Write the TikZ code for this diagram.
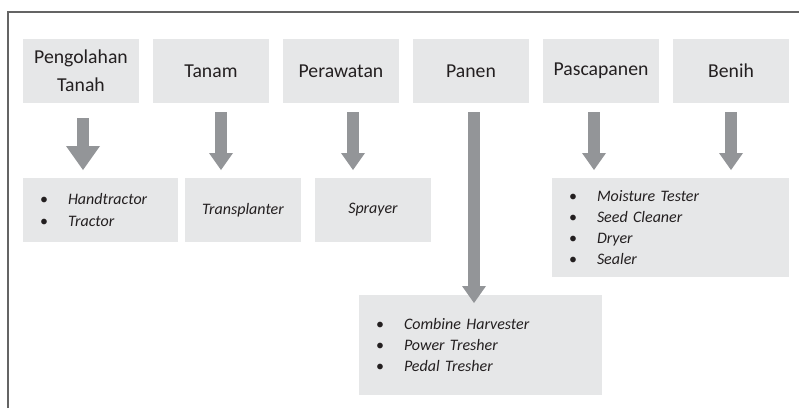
\documentclass[tikz,border=0pt]{standalone}
\usepackage{fontspec}
\setmainfont{Carlito}
\usetikzlibrary{arrows.meta}
\definecolor{boxfill}{HTML}{E6E7E8}
\definecolor{arrowgray}{HTML}{939598}
\definecolor{textc}{HTML}{231F20}
\definecolor{framegray}{HTML}{646464}
\newcommand{\itm}[1]{\makebox[28pt][l]{\textbullet}\textit{#1}}
\begin{document}
\begin{tikzpicture}[x=1pt,y=-1pt,
  topbox/.style={fill=boxfill, inner sep=0pt, outer sep=0pt, minimum width=116pt, minimum height=64pt,
    align=center, text=textc, font=\fontsize{19.7}{28}\selectfont},
  itembox/.style={fill=boxfill, inner sep=0pt, outer sep=0pt, minimum height=64pt,
    align=center, text=textc, font=\fontsize{16}{21.3}\selectfont\itshape},
  listbox/.style={fill=boxfill, inner ysep=0pt, inner xsep=17pt, outer sep=0pt,
    align=left, text=textc, font=\fontsize{16}{21.3}\selectfont},
  smallarrow/.style={draw=arrowgray, line width=12pt, shorten <=9pt, shorten >=8pt,
    -{Triangle[width=24pt,length=17pt,line width=0pt]}},
  bigarrow/.style={draw=arrowgray, line width=12pt, shorten <=15pt, shorten >=8pt,
    -{Triangle[width=34pt,length=24pt,line width=0pt]}}
]
\useasboundingbox (0,0) rectangle (799,408);
\draw[framegray, line width=2pt] (8,408) -- (8,11.5) -- (799,11.5);

\node[topbox] (t1) at (81,71) {Pengolahan\\Tanah};
\node[topbox] (t2) at (211,71) {Tanam};
\node[topbox] (t3) at (341,71) {Perawatan};
\node[topbox] (t4) at (471,71) {Panen};
\node[topbox] (t5) at (601,71) {Pascapanen};
\node[topbox] (t6) at (731,71) {Benih};

\node[listbox, minimum width=155pt, minimum height=64pt, text width=121pt] (bA) at (100.5,210)
  {\itm{Handtractor}\\\itm{Tractor}};
\node[itembox, minimum width=116pt] (bB) at (243,210) {Transplanter};
\node[itembox, minimum width=116pt] (bC) at (373,210) {Sprayer};
\node[listbox, minimum width=237pt, minimum height=99pt, text width=203pt] (bD) at (670.5,227.5)
  {\itm{Moisture Tester}\\\itm{Seed Cleaner}\\\itm{Dryer}\\\itm{Sealer}};
\node[listbox, minimum width=243pt, minimum height=100pt, text width=209pt] (bE) at (480.5,345)
  {\itm{Combine Harvester}\\\itm{Power Tresher}\\\itm{Pedal Tresher}};

\draw[bigarrow] ([xshift=2pt]t1.south) -- ([xshift=2pt]t1.south |- bA.north);
\draw[smallarrow] ([xshift=10pt]t2.south) -- ([xshift=10pt]t2.south |- bB.north);
\draw[smallarrow] ([xshift=12pt]t3.south) -- ([xshift=12pt]t3.south |- bC.north);
\draw[smallarrow, shorten >=-8pt] ([xshift=3pt]t4.south) -- ([xshift=3pt]t4.south |- bE.north);
\draw[smallarrow] ([xshift=-7pt]t5.south) -- ([xshift=-7pt]t5.south |- bD.north);
\draw[smallarrow] (t6.south) -- (t6.south |- bD.north);
\end{tikzpicture}
\end{document}
